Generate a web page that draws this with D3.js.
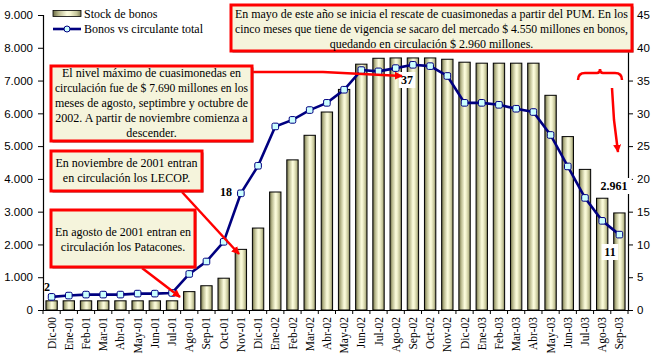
<!DOCTYPE html>
<html><head><meta charset="utf-8">
<script src="https://cdn.jsdelivr.net/npm/d3@7"></script>
<style>
body{margin:0;background:#fff;}
svg{display:block;}
.ax text{font-family:"Liberation Sans",Arial,sans-serif;font-size:11.5px;fill:#000;}
.xl text{font-family:'Liberation Serif','Tinos','Times New Roman','DejaVu Serif',serif;font-size:11.5px;fill:#000;}
.ann{font-family:'Liberation Serif','Tinos','Times New Roman','DejaVu Serif',serif;font-size:12px;fill:#000;}
.lbl{font-family:'Liberation Serif','Tinos','Times New Roman','DejaVu Serif',serif;font-size:12px;font-weight:bold;fill:#000;}
</style></head><body>
<svg id="c" width="654" height="362"></svg>
<script>
const categories=["Dic-00","Ene-01","Feb-01","Mar-01","Abr-01","May-01","Jun-01","Jul-01","Ago-01","Sep-01","Oct-01","Nov-01","Dic-01","Ene-02","Feb-02","Mar-02","Abr-02","May-02","Jun-02","Jul-02","Ago-02","Sep-02","Oct-02","Nov-02","Dic-02","Ene-03","Feb-03","Mar-03","Abr-03","May-03","Jun-03","Jul-03","Ago-03","Sep-03"];
const stockBonos=[280,280,280,280,280,280,280,280,560,740,970,1850,2500,3600,4580,5330,6040,6730,7500,7680,7690,7690,7690,7650,7560,7530,7530,7530,7530,6550,5290,4290,3410,2961];
const bonosVsCirculante=[2.0,2.2,2.35,2.35,2.35,2.5,2.5,2.6,5.5,7.4,10.4,17.8,22.0,28.0,29.0,30.5,31.6,33.6,36.6,36.4,36.9,37.4,37.2,35.7,31.6,31.6,31.3,30.7,30.2,26.7,21.9,17.1,13.6,11.5];
const leftTicks=[0,1000,2000,3000,4000,5000,6000,7000,8000,9000];
const rightTicks=[0,5,10,15,20,25,30,35,40,45];
const seriesNames=["Stock de bonos","Bonos vs circulante total"];
const note1=["En mayo de este año se inicia el rescate de cuasimonedas a partir del PUM. En los","cinco meses que tiene de vigencia se sacaro del mercado $ 4.550 millones en bonos,","quedando en circulación $ 2.960 millones."];
const note2=["El nivel máximo de cuasimonedas en","circulación fue de $ 7.690 millones en los","meses de agosto, septimbre y octubre de","2002. A partir de noviembre comienza a","descender."];
const note3=["En noviembre de 2001 entran","en circulación los LECOP."];
const note4=["En agosto de 2001 entran en","circulación los Patacones."];

d3.formatDefaultLocale({decimal:",",thousands:".",grouping:[3],currency:["$",""]});
const fmt=d3.format(",");

const svg=d3.select("#c");
const L=43,R=628,T=15,B=310;
const x=d3.scaleBand().domain(categories).range([L,R]).paddingInner(0.34).paddingOuter(0.17);
const xc=d=>x(d)+x.bandwidth()/2;
const yL=d3.scaleLinear().domain([0,9000]).range([B,T]);
const yR=d3.scaleLinear().domain([0,45]).range([B,T]);

const defs=svg.append("defs");
const g=defs.append("linearGradient").attr("id","bar").attr("x1","0").attr("x2","1").attr("y1","0").attr("y2","0");
[[0,"#6a6a44"],[0.2,"#b8b88c"],[0.5,"#fbfbdc"],[0.62,"#f4f4d0"],[0.85,"#c4c498"],[1,"#7a7a52"]].forEach(s=>g.append("stop").attr("offset",s[0]).attr("stop-color",s[1]));
defs.append("marker").attr("id","ah").attr("viewBox","0 0 10 10").attr("refX",9).attr("refY",5)
 .attr("markerWidth",3.2).attr("markerHeight",3.2).attr("orient","auto").attr("markerUnits","strokeWidth")
 .append("path").attr("d","M0,0L10,5L0,10z").attr("fill","#ff0000");

// bars
svg.append("g").selectAll("rect").data(stockBonos).join("rect")
 .attr("x",(d,i)=>x(categories[i])).attr("width",x.bandwidth())
 .attr("y",d=>yL(d)).attr("height",d=>B-yL(d))
 .attr("fill","url(#bar)").attr("stroke","#000").attr("stroke-width",1);

// axes
const ga=svg.append("g").attr("class","ax").attr("transform",`translate(${L},0)`)
 .call(d3.axisLeft(yL).tickValues(leftTicks).tickFormat(fmt).tickSize(5).tickPadding(5));
const gr=svg.append("g").attr("class","ax").attr("transform",`translate(${R},0)`)
 .call(d3.axisRight(yR).tickValues(rightTicks).tickSize(5).tickPadding(4));
[ga,gr].forEach(a=>{a.select(".domain").attr("stroke","#000").attr("stroke-width",1.2);a.selectAll(".tick line").attr("stroke","#000");});
const gx=svg.append("g").attr("class","xl").attr("transform",`translate(0,${B})`)
 .call(d3.axisBottom(x).tickSize(0).tickPadding(0));
gx.select(".domain").attr("stroke","#000").attr("stroke-width",1.2);
gx.selectAll(".tick text").attr("transform","rotate(-90)").attr("text-anchor","end").attr("x",-7).attr("y",0).attr("dy","0.35em");
const bounds=categories.map(c=>x(c)-x.step()*x.paddingInner()/2).concat([R]);
svg.append("g").selectAll("line").data(bounds).join("line")
 .attr("x1",d=>d).attr("x2",d=>d).attr("y1",B).attr("y2",B+4).attr("stroke","#000");

// line
const line=d3.line().x((d,i)=>xc(categories[i])).y(d=>yR(d));
svg.append("path").datum(bonosVsCirculante).attr("d",line).attr("fill","none").attr("stroke","#000080").attr("stroke-width",2.6);
svg.append("g").selectAll("rect").data(bonosVsCirculante).join("rect")
 .attr("x",(d,i)=>xc(categories[i])-3.3).attr("y",d=>yR(d)-3.3).attr("width",6.6).attr("height",6.6).attr("rx",1.5)
 .attr("fill","#ccffff").attr("stroke","#000080").attr("stroke-width",1);

// data labels
function lab(txt,cx,cy,bg){
  if(bg){const w=txt.length*6.3+4;svg.append("rect").attr("x",cx-w/2).attr("y",cy-8).attr("width",w).attr("height",16).attr("fill","#fff");}
  svg.append("text").attr("class","lbl").attr("x",cx).attr("y",cy+4).attr("text-anchor","middle").text(txt);
}
lab(String(Math.round(bonosVsCirculante[0])),47,287,false);
lab(String(Math.round(bonosVsCirculante[11])),226,192,false);
lab(String(Math.round(bonosVsCirculante[20])),407,80,true);
lab(fmt(stockBonos[33]),614,186,true);
lab(String(Math.floor(bonosVsCirculante[33])),610,252,true);

// legend
svg.append("rect").attr("x",53).attr("y",10.5).attr("width",28).attr("height",6).attr("fill","url(#bar)").attr("stroke","#000").attr("stroke-width",0.8);
svg.append("text").attr("class","ann").attr("x",84).attr("y",18).text(seriesNames[0]);
svg.append("line").attr("x1",53).attr("x2",81).attr("y1",29).attr("y2",29).attr("stroke","#000080").attr("stroke-width",2.6);
svg.append("circle").attr("cx",67).attr("cy",29).attr("r",3).attr("fill","#ccffff").attr("stroke","#000080");
svg.append("text").attr("class","ann").attr("x",84).attr("y",33).text(seriesNames[1]);

// connectors
const red=(d,arrow)=>{const p=svg.append("path").attr("d",d).attr("fill","none").attr("stroke","#ff0000").attr("stroke-width",2.5);if(arrow)p.attr("marker-end","url(#ah)");};
red("M252,72L323,72L402,76",true);
red("M182,192L239,254",true);
red("M142,268L180,297",true);
red("M578,80Q578,73 585,73L597,73Q600,73 600,69Q600,73 603,73L615,73Q622,73 622,80",false);
red("M612,88L614,120L618,152",true);

// note boxes
function box(x0,y0,w,h,lines,b0){
  svg.append("rect").attr("x",x0+1.5).attr("y",y0+1.5).attr("width",w).attr("height",h).attr("fill","#666");
  svg.append("rect").attr("x",x0).attr("y",y0).attr("width",w).attr("height",h).attr("fill","#f5f4dc").attr("stroke","#ff0000").attr("stroke-width",3);
  lines.forEach((t,i)=>{
    const tx=svg.append("text").attr("class","ann").attr("x",x0+w/2).attr("y",b0+i*15).attr("text-anchor","middle").text(t);
    const len=tx.node().getComputedTextLength();
    if(len>w-8) tx.attr("textLength",w-8).attr("lengthAdjust","spacingAndGlyphs");
  });
}
box(231,5,401,46,note1,18);
box(51,66,201,75,note2,77);
box(51,151,151,40,note3,167);
box(51,210,144,57,note4,236);
</script></body></html>
